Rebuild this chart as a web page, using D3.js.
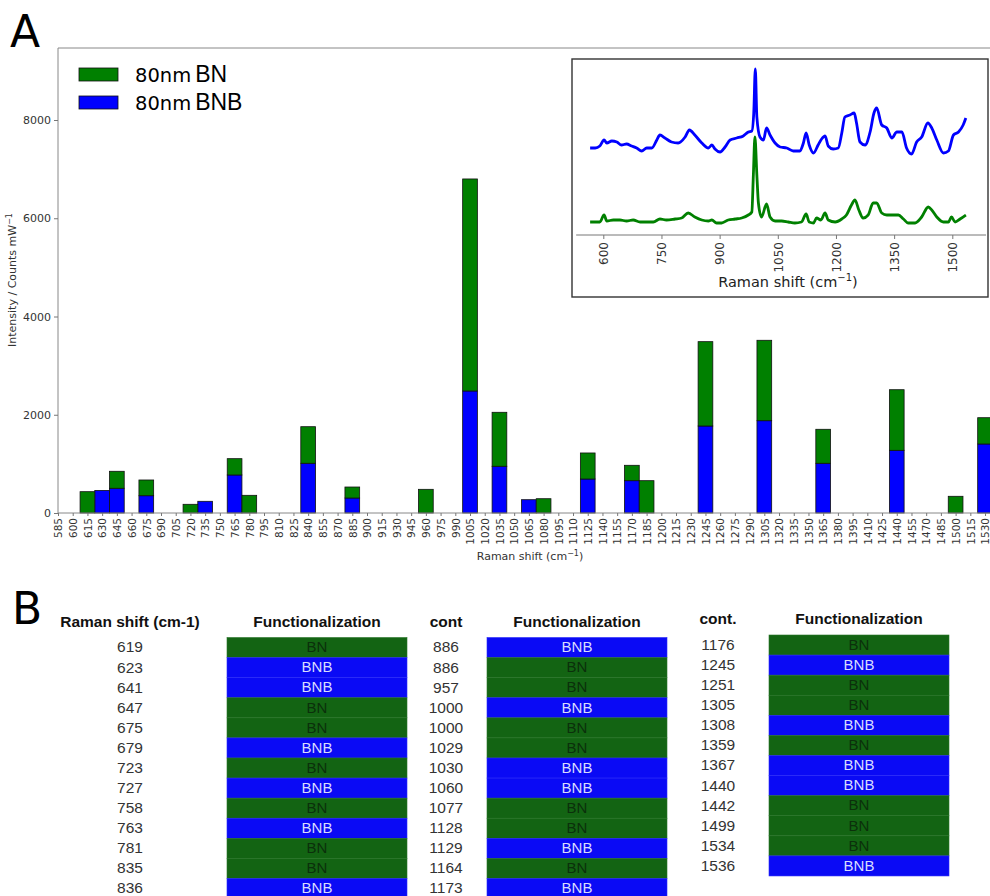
<!DOCTYPE html>
<html>
<head>
<meta charset="utf-8">
<script src="https://cdn.jsdelivr.net/npm/d3@7/dist/d3.min.js"></script>
<style>
body { margin: 0; background: #fff; }
svg text { font-family: "DejaVu Sans", sans-serif; }
.tbl text { font-family: "Liberation Sans", Arial, sans-serif; }
</style>
</head>
<body>
<svg id="fig" width="990" height="896"></svg>
<script>
// --- panel A: stacked bars (counts per 15 cm-1 bin) ---
var shiftTicks = [585, 600, 615, 630, 645, 660, 675, 690, 705, 720, 735, 750, 765, 780, 795, 810,
    825, 840, 855, 870, 885, 900, 915, 930, 945, 960, 975, 990, 1005, 1020, 1035, 1050, 1065, 1080,
    1095, 1110, 1125, 1140, 1155, 1170, 1185, 1200, 1215, 1230, 1245, 1260, 1275, 1290, 1305, 1320,
    1335, 1350, 1365, 1380, 1395, 1410, 1425, 1440, 1455, 1470, 1485, 1500, 1515, 1530];
var yTicks = [0, 2000, 4000, 6000, 8000];

var barShifts = [615, 630, 645, 675, 720, 735, 765, 780, 840, 885, 960, 1005, 1035, 1065, 1080,
    1125, 1170, 1185, 1245, 1305, 1365, 1440, 1500, 1530];
var bnbCounts = [0, 460, 503, 352, 0, 238, 774, 0, 1012, 305, 0, 2484, 951, 271, 0,
    692, 658, 0, 1771, 1879, 1012, 1276, 0, 1405];
var bnCounts = [434, 0, 346, 320, 177, 0, 332, 360, 745, 224, 482, 4316, 1099, 0, 291,
    530, 313, 658, 1717, 1637, 692, 1234, 340, 535];

// --- inset spectra (arbitrary intensity) ---
var insetTicks = [600, 750, 900, 1050, 1200, 1350, 1500];
var bnbShift = [566, 579, 591, 602, 609, 622, 635, 647, 660, 673, 686, 699, 712, 725, 738, 746, 759,
    776, 793, 811, 822, 836, 854, 871, 880, 888, 901, 914, 927, 944, 961, 974, 983, 988, 992, 996,
    1004, 1013, 1021, 1030, 1043, 1056, 1073, 1090, 1107, 1116, 1123, 1131, 1142, 1154, 1163, 1172,
    1180, 1193, 1206, 1215, 1223, 1236, 1247, 1253, 1262, 1275, 1288, 1298, 1305, 1318, 1331, 1344,
    1357, 1370, 1382, 1395, 1408, 1421, 1437, 1447, 1460, 1477, 1490, 1503, 1516, 1528, 1535];
var bnbSignal = [87, 87, 89, 95, 92, 94, 93, 90, 91, 89, 87, 84, 87, 87, 95, 100, 97,
    93, 92, 98, 105, 100, 92, 87, 90, 86, 83, 88, 95, 97, 99, 103, 104, 122, 166, 118,
    98, 95, 107, 100, 92, 88, 87, 84, 84, 92, 102, 90, 82, 90, 96, 99,
    89, 86, 87, 102, 118, 120, 122, 112, 93, 90, 103, 122, 127, 110, 107, 97,
    103, 103, 87, 81, 93, 98, 112, 107, 95, 82, 84, 100, 103, 110, 117];
var bnShift = [566, 591, 602, 609, 626, 643, 660, 677, 695, 712, 729, 746, 763, 785, 802, 819, 836,
    854, 871, 880, 892, 905, 922, 940, 957, 974, 983, 987, 991, 996, 1000, 1008, 1021, 1030, 1043,
    1060, 1077, 1094, 1111, 1123, 1131, 1142, 1150, 1161, 1172, 1180, 1198, 1215, 1227, 1240, 1249,
    1259, 1270, 1283, 1296, 1305, 1318, 1331, 1348, 1361, 1374, 1386, 1404, 1421, 1438, 1447, 1460,
    1477, 1490, 1498, 1507, 1520, 1535];
var bnSignal = [13, 13, 20, 14, 15, 15, 14, 15, 13, 13, 13, 16, 15, 16, 17, 22, 18,
    15, 14, 15, 12, 12, 15, 16, 17, 20, 23, 60, 98, 60, 32, 18, 31, 18, 14,
    14, 13, 12, 13, 21, 13, 12, 17, 15, 22, 15, 13, 16, 20, 30, 35,
    25, 17, 20, 32, 32, 22, 20, 20, 20, 16, 12, 12, 18, 28, 25, 18,
    13, 13, 18, 13, 16, 20];

// --- panel B: table ---
var col1Shift = [619, 623, 641, 647, 675, 679, 723, 727, 758, 763, 781, 835, 836];
var col1Func = ["BN", "BNB", "BNB", "BN", "BN", "BNB", "BN", "BNB", "BN", "BNB", "BN", "BN", "BNB"];
var col2Shift = [886, 886, 957, 1000, 1000, 1029, 1030, 1060, 1077, 1128, 1129, 1164, 1173];
var col2Func = ["BNB", "BN", "BN", "BNB", "BN", "BN", "BNB", "BNB", "BN", "BN", "BNB", "BN", "BNB"];
var col3Shift = [1176, 1245, 1251, 1305, 1308, 1359, 1367, 1440, 1442, 1499, 1534, 1536];
var col3Func = ["BN", "BNB", "BN", "BN", "BNB", "BN", "BNB", "BNB", "BN", "BN", "BN", "BNB"];

var svg = d3.select("#fig");
var GREEN = "#008000", BLUE = "#0000ff";
var fmt = d3.format("d");

// panel letter
svg.append("text").attr("x", 10).attr("y", 47).style("font-size", "44px").text("A");

var x = d3.scaleLinear().domain([585, 1545]).range([58, 58 + 960 * 0.981]);
var y = d3.scaleLinear().domain([0, 9466]).range([513, 48]);

// frame
svg.append("line").attr("x1", 58).attr("x2", 990).attr("y1", 48).attr("y2", 48)
    .attr("stroke", "#888").attr("stroke-width", 1);

var rows = barShifts.map(function (s, i) { return { shift: s, BNB: bnbCounts[i], BN: bnCounts[i] }; });
var stacked = d3.stack().keys(["BNB", "BN"])(rows);
var fills = { BNB: BLUE, BN: GREEN };

svg.append("g").selectAll("g").data(stacked).join("g")
    .attr("fill", function (d) { return fills[d.key]; })
    .selectAll("rect")
    .data(function (d) { return d.filter(function (e) { return e[1] > e[0]; }); })
    .join("rect")
    .attr("x", function (d) { return x(d.data.shift - 7.5); })
    .attr("width", function (d) { return x(d.data.shift + 7.5) - x(d.data.shift - 7.5); })
    .attr("y", function (d) { return y(d[1]); })
    .attr("height", function (d) { return y(d[0]) - y(d[1]); })
    .attr("stroke", "#111").attr("stroke-width", 0.8);

var xAxis = svg.append("g").attr("transform", "translate(0,513)")
    .call(d3.axisBottom(x).tickValues(shiftTicks).tickFormat(fmt).tickSize(3).tickSizeOuter(0));
xAxis.select(".domain").attr("stroke", "#888").attr("d", "M58,0H990");
xAxis.selectAll(".tick line").attr("stroke", "#777");
xAxis.selectAll(".tick text")
    .attr("transform", "rotate(-90)").attr("x", -5).attr("y", 0).attr("dy", "0.36em")
    .style("text-anchor", "end").style("font-size", "10.5px").attr("fill", "#333")
    .style("font-family", "DejaVu Sans");

var yAxis = svg.append("g").attr("transform", "translate(58,0)")
    .call(d3.axisLeft(y).tickValues(yTicks).tickFormat(fmt).tickSize(4).tickSizeOuter(0));
yAxis.select(".domain").attr("stroke", "#888").attr("d", "M0,48V513");
yAxis.selectAll(".tick line").attr("stroke", "#777");
yAxis.selectAll(".tick text").style("font-size", "11px").attr("fill", "#333")
    .style("font-family", "DejaVu Sans");

var xl = svg.append("text").attr("x", 530).attr("y", 560).attr("text-anchor", "middle")
    .style("font-size", "11px").attr("fill", "#333").text("Raman shift (cm");
xl.append("tspan").attr("dy", -4).style("font-size", "8px").text("\u22121");
xl.append("tspan").attr("dy", 4).text(")");

var yl = svg.append("text").attr("transform", "translate(16,280) rotate(-90)")
    .attr("text-anchor", "middle").style("font-size", "11px").attr("fill", "#333")
    .text("Intensity / Counts mW");
yl.append("tspan").attr("dy", -4).style("font-size", "8px").text("\u22121");

// legend
var legendItems = [{ label: "BN", color: GREEN }, { label: "BNB", color: BLUE }];
var lg = svg.append("g").selectAll("g").data(legendItems).join("g")
    .attr("transform", function (d, i) { return "translate(79," + (68 + i * 28) + ")"; });
lg.append("rect").attr("width", 39).attr("height", 13).attr("fill", function (d) { return d.color; })
    .attr("stroke", "#111").attr("stroke-width", 0.8);
var lt = lg.append("text").attr("x", 56).attr("y", 14);
lt.append("tspan").style("font-size", "19.5px").style("font-family", "DejaVu Sans").text("80nm");
lt.append("tspan").attr("dx", 4).style("font-size", "23px").style("font-family", "Liberation Sans")
    .text(function (d) { return d.label; });

// inset
var inset = svg.append("g");
inset.append("rect").attr("x", 572).attr("y", 59).attr("width", 416).attr("height", 238)
    .attr("fill", "#fff").attr("stroke", "#333").attr("stroke-width", 1.4);
var ix = d3.scaleLinear().domain([600, 1500]).range([603.3, 952.3]);
var iy = d3.scaleLinear().domain([0, 175]).range([235, 60]);

var ia = inset.append("g").attr("transform", "translate(0,235)")
    .call(d3.axisBottom(ix).tickValues(insetTicks).tickFormat(fmt).tickSize(4).tickSizeOuter(0));
ia.select(".domain").attr("stroke", "#777").attr("d", "M" + ix(530) + ",0H" + ix(1587));
ia.selectAll(".tick line").attr("stroke", "#777");
ia.selectAll(".tick text")
    .attr("transform", "rotate(-90)").attr("x", -7).attr("y", 0).attr("dy", "0.36em")
    .style("text-anchor", "end").style("font-size", "12px").attr("fill", "#333")
    .style("font-family", "DejaVu Sans");

var il = inset.append("text").attr("x", 788).attr("y", 287).attr("text-anchor", "middle")
    .style("font-size", "14.5px").attr("fill", "#222").text("Raman shift (cm");
il.append("tspan").attr("dy", -6).style("font-size", "10px").text("\u22121");
il.append("tspan").attr("dy", 6).text(")");

var line = d3.line().x(function (d) { return ix(d[0]); }).y(function (d) { return iy(d[1]); })
    .curve(d3.curveMonotoneX);
inset.append("path").datum(d3.zip(bnbShift, bnbSignal)).attr("d", line)
    .attr("fill", "none").attr("stroke", BLUE).attr("stroke-width", 2.8).attr("stroke-linejoin", "round");
inset.append("path").datum(d3.zip(bnShift, bnSignal)).attr("d", line)
    .attr("fill", "none").attr("stroke", GREEN).attr("stroke-width", 2.8).attr("stroke-linejoin", "round");

// --- panel B ---
svg.append("text").attr("x", 12).attr("y", 624).style("font-size", "44px").text("B");

var tbl = svg.append("g").attr("class", "tbl");
var cols = [
    { head: "Raman shift (cm-1)", numX: 130, boxX: 227, top: 637.5, shifts: col1Shift, funcs: col1Func },
    { head: "cont", numX: 446, boxX: 487, top: 637.5, shifts: col2Shift, funcs: col2Func },
    { head: "cont.", numX: 718, boxX: 769, top: 635, shifts: col3Shift, funcs: col3Func }
];
var rowH = 20.08, boxW = 180;
var boxFill = { BN: "#136413", BNB: "#0a0af5" };
var boxText = { BN: "#0b300b", BNB: "#d8dcff" };

cols.forEach(function (c) {
    tbl.append("text").attr("x", c.numX).attr("y", c.top - 11).attr("text-anchor", "middle")
        .style("font-size", "15.5px").style("font-weight", "bold").attr("fill", "#111").text(c.head);
    tbl.append("text").attr("x", c.boxX + boxW / 2).attr("y", c.top - 11).attr("text-anchor", "middle")
        .style("font-size", "15.5px").style("font-weight", "bold").attr("fill", "#111").text("Functionalization");

    var r = tbl.append("g").selectAll("g").data(d3.zip(c.shifts, c.funcs)).join("g")
        .attr("transform", function (d, i) { return "translate(0," + (c.top + i * rowH) + ")"; });
    r.append("rect").attr("x", c.boxX).attr("width", boxW).attr("height", rowH)
        .attr("fill", function (d) { return boxFill[d[1]]; })
        .attr("stroke", function (d) { return d[1] === "BN" ? "#2a752a" : "#2a2af8"; }).attr("stroke-width", 0.6);
    r.append("text").attr("x", c.boxX + boxW / 2).attr("y", rowH / 2 - 0.5).attr("dy", "0.35em")
        .attr("text-anchor", "middle").style("font-size", "15px")
        .attr("fill", function (d) { return boxText[d[1]]; }).text(function (d) { return d[1]; });
    r.append("text").attr("x", c.numX).attr("y", rowH / 2 - 0.5).attr("dy", "0.35em")
        .attr("text-anchor", "middle").style("font-size", "15.5px").attr("fill", "#333")
        .text(function (d) { return d[0]; });
});
</script>
</body>
</html>
